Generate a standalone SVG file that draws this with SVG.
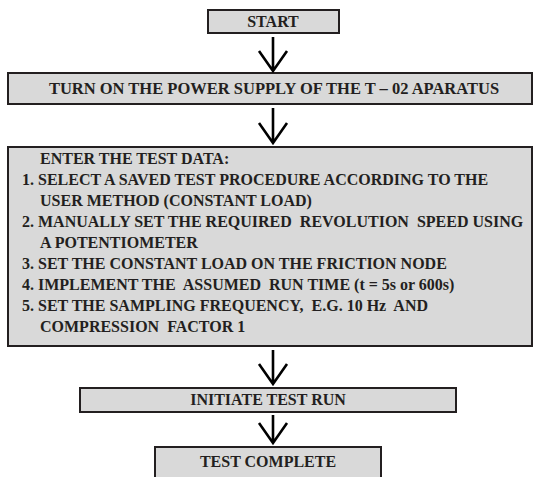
<svg xmlns="http://www.w3.org/2000/svg" width="534" height="477" viewBox="0 0 534 477">
<style>
.box{fill:#d9d9d9;stroke:#231f20;stroke-width:2}
text{font-family:'Liberation Serif','Times New Roman',serif;font-weight:bold;font-size:16px;fill:#231f20;white-space:pre}
.c{text-anchor:middle}
.arr{fill:none;stroke:#000;stroke-width:2.6;stroke-linejoin:miter}
</style>
<rect width="534" height="477" fill="#fff"/>
<g id="start"><rect class="box" x="208" y="10" width="131" height="23"/><text class="c" x="273" y="27">START</text></g>
<g id="power"><rect class="box" x="8" y="73" width="524" height="31"/><text class="c" x="274" y="94" style="font-size:16.5px">TURN ON THE POWER SUPPLY OF THE T – 02 APARATUS</text></g>
<g id="enter"><rect class="box" x="8" y="147" width="524" height="199"/>
<text xml:space="preserve"><tspan x="40" y="164">ENTER THE TEST DATA:</tspan><tspan x="22" y="185">1. SELECT A SAVED TEST PROCEDURE ACCORDING TO THE</tspan><tspan x="40" y="206">USER METHOD (CONSTANT LOAD)</tspan><tspan x="22" y="227">2. MANUALLY SET THE REQUIRED  REVOLUTION  SPEED USING</tspan><tspan x="40" y="248">A POTENTIOMETER</tspan><tspan x="22" y="269">3. SET THE CONSTANT LOAD ON THE FRICTION NODE</tspan><tspan x="22" y="290">4. IMPLEMENT THE  ASSUMED  RUN TIME (t = 5s or 600s)</tspan><tspan x="22" y="311">5. SET THE SAMPLING FREQUENCY,  E.G. 10 Hz  AND</tspan><tspan x="40" y="332">COMPRESSION  FACTOR 1</tspan></text></g>
<g id="initiate"><rect class="box" x="80" y="388" width="376" height="24"/><text class="c" x="268" y="405">INITIATE TEST RUN</text></g>
<g id="complete"><rect class="box" x="155" y="447" width="226" height="34"/><text class="c" x="268" y="467">TEST COMPLETE</text></g>
<g id="connectors">
<path class="arr" d="M273 37V71M259 51L273 71L287 51"/>
<path class="arr" d="M273 108V143M259 123L273 143L287 123"/>
<path class="arr" d="M273 350V384M259 364L273 384L287 364"/>
<path class="arr" d="M273 415V443M259 423L273 443L287 423"/>
</g>
</svg>
